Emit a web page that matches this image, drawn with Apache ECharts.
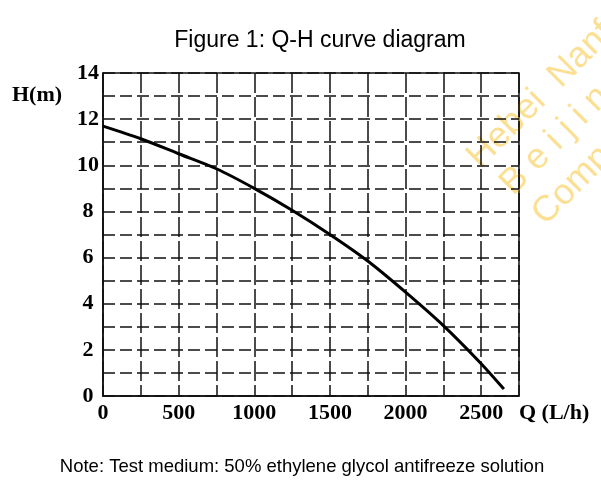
<!DOCTYPE html>
<html>
<head>
<meta charset="utf-8">
<script src="https://cdn.jsdelivr.net/npm/echarts@6/dist/echarts.min.js"></script>
<style>
  html, body { margin: 0; padding: 0; background: #fff; }
  #chart { width: 601px; height: 487px; }
</style>
</head>
<body>
<div id="chart"></div>
<script>
// flow Q (L/h) and head H (m)
var flow = [0, 250, 500, 750, 1000, 1250, 1500, 1750, 2000, 2250, 2500, 2650];
var head = [11.7, 11.15, 10.5, 9.85, 9.0, 8.05, 7.0, 5.85, 4.5, 3.05, 1.4, 0.3];
var xTickLabels = [0, 500, 1000, 1500, 2000, 2500];
var watermark = ['Hebei  Nanfang', 'B e i j i n g', 'Company'];

var axisFont = '"Liberation Serif", serif';

var points = flow.map(function (q, i) { return [q, head[i]]; });

var option = {
  animation: false,
  backgroundColor: '#fff',
  title: [
    {
      text: 'Figure 1: Q-H curve diagram',
      left: 315,
      top: 24,
      textAlign: 'center',
      textStyle: { fontFamily: 'Liberation Sans', fontSize: 23, fontWeight: 'normal', color: '#000' }
    },
    {
      text: 'Note: Test medium: 50% ethylene glycol antifreeze solution',
      left: 297,
      top: 452,
      textAlign: 'center',
      textStyle: { fontFamily: 'Liberation Sans', fontSize: 18.5, fontWeight: 'normal', color: '#000' }
    }
  ],
  grid: {
    top: 73,
    left: 103,
    right: 82,
    bottom: 91,
    show: true,
    borderColor: '#111',
    borderWidth: 1.5
  },
  xAxis: {
    type: 'value',
    min: 0,
    max: 2750,
    interval: 250,
    name: 'Q (L/h)',
    nameLocation: 'end',
    nameGap: 0,
    nameTextStyle: {
      fontFamily: axisFont, fontSize: 22, fontWeight: 'bold', color: '#000',
      align: 'left', verticalAlign: 'top', padding: [6, 0, 0, 0]
    },
    axisLine: { lineStyle: { color: '#111', width: 1.5 } },
    axisTick: { show: false },
    axisLabel: {
      margin: 6,
      fontFamily: axisFont, fontSize: 22, fontWeight: 'bold', color: '#000',
      formatter: function (v) { return xTickLabels.indexOf(v) >= 0 ? String(v) : ''; }
    },
    splitLine: { lineStyle: { color: '#111', width: 1.5, type: [20, 4] } }
  },
  yAxis: {
    type: 'value',
    min: 0,
    max: 14,
    interval: 1,
    name: 'H(m)',
    nameLocation: 'end',
    nameGap: -22,
    nameTextStyle: {
      fontFamily: axisFont, fontSize: 22, fontWeight: 'bold', color: '#000',
      align: 'center', verticalAlign: 'middle', padding: [0, 132, 0, 0]
    },
    axisLine: { show: true, lineStyle: { color: '#111', width: 1.5 } },
    axisTick: { show: false },
    axisLabel: {
      margin: 15,
      align: 'center',
      fontFamily: axisFont, fontSize: 22, fontWeight: 'bold', color: '#000',
      formatter: function (v) { return v % 2 === 0 ? String(v) : ''; }
    },
    splitLine: { lineStyle: { color: '#111', width: 1.5, type: [12, 5] } }
  },
  graphic: watermark.map(function (t, i) {
    return {
      type: 'text',
      x: [486, 519, 551][i],
      y: [175, 202, 232][i],
      rotation: Math.PI / 4,
      silent: true,
      style: {
        text: t,
        fontFamily: 'Liberation Sans',
        fontSize: 36,
        fill: 'rgba(248, 192, 40, 0.5)',
        textVerticalAlign: 'bottom'
      }
    };
  }),
  series: [
    {
      type: 'line',
      smooth: 0.3,
      showSymbol: false,
      data: points,
      lineStyle: { color: '#000', width: 3 }
    }
  ]
};

var chart = echarts.init(document.getElementById('chart'));
chart.setOption(option);
</script>
</body>
</html>
